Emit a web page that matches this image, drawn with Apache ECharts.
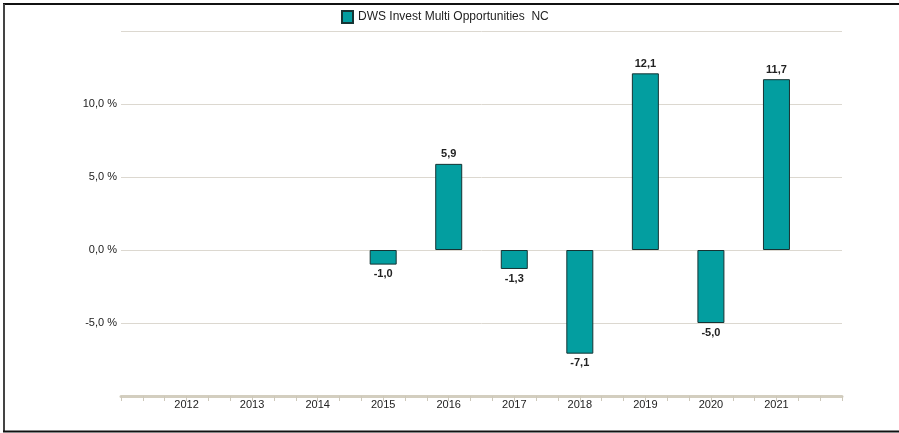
<!DOCTYPE html>
<html>
<head>
<meta charset="utf-8">
<script src="https://cdn.jsdelivr.net/npm/echarts@6/dist/echarts.min.js"></script>
<style>
  html, body { margin: 0; padding: 0; background: #fff; }
  #chart { width: 899px; height: 433px; }
</style>
</head>
<body>
<div id="chart"></div>
<script>
  // x slots: empty padding at both ends, the years in between
  var years = ['', '2012', '2013', '2014', '2015', '2016', '2017', '2018', '2019', '2020', '2021', ''];
  var returns = [null, null, null, null, -1.0, 5.9, -1.3, -7.1, 12.1, -5.0, 11.7, null];
  var seriesName = 'DWS Invest Multi Opportunities  NC';
  var yMin = -10, yMax = 15, yStep = 5;

  function comma(v) {
    return v.toFixed(1).replace('.', ',');
  }

  var barData = returns.map(function (v) {
    if (v === null) return '-';
    return {
      value: v,
      label: { position: v >= 0 ? 'top' : 'bottom' }
    };
  });

  var myChart = echarts.init(document.getElementById('chart'));

  var option = {
    animation: false,
    textStyle: { fontFamily: 'Liberation Sans, Arial, sans-serif' },
    legend: {
      top: 10,
      left: 341,
      padding: 0,
      icon: 'rect',
      itemWidth: 11,
      itemHeight: 12,
      itemGap: 4,
      selectedMode: false,
      textStyle: { fontSize: 12, color: '#222' },
      data: [seriesName]
    },
    grid: { left: 121, right: 57, top: 31, bottom: 37 },
    xAxis: [
      {
        type: 'category',
        data: years,
        boundaryGap: false,
        axisLine: { show: false },
        axisTick: { show: false },
        axisLabel: { margin: 3, fontSize: 11, color: '#222', interval: 0 },
        splitLine: { show: false }
      },
      {
        // only draws the small ticks along the bottom line
        type: 'value',
        position: 'bottom',
        min: 0,
        max: 33,
        interval: 1,
        axisLine: { show: true, lineStyle: { color: '#d3cebf', width: 3 } },
        axisTick: { show: true, length: 5, lineStyle: { color: '#cdc8ba', width: 1 } },
        axisLabel: { show: false },
        splitLine: { show: false }
      }
    ],
    yAxis: {
      type: 'value',
      min: yMin,
      max: yMax,
      interval: yStep,
      axisLine: { show: false },
      axisTick: { show: false },
      axisLabel: {
        margin: 4,
        fontSize: 11,
        color: '#222',
        showMinLabel: false,
        showMaxLabel: false,
        formatter: function (v) { return comma(v) + ' %'; }
      },
      splitLine: { lineStyle: { color: '#dcd8d0', width: 1 } }
    },
    series: [
      {
        name: seriesName,
        type: 'bar',
        xAxisIndex: 0,
        barWidth: 27,
        data: barData,
        itemStyle: { color: '#039ea0', borderColor: '#163333', borderWidth: 1 },
        label: {
          show: true,
          distance: 4,
          fontSize: 11,
          fontWeight: 'bold',
          color: '#222',
          formatter: function (p) { return comma(p.value); }
        }
      }
    ],
    graphic: [
      { type: 'line', shape: { x1: 3, y1: 4, x2: 899, y2: 4 }, style: { stroke: '#111', lineWidth: 2 } },
      { type: 'line', shape: { x1: 4, y1: 4, x2: 4, y2: 432 }, style: { stroke: '#444', lineWidth: 2 } },
      { type: 'line', shape: { x1: 3, y1: 431.5, x2: 899, y2: 431.5 }, style: { stroke: '#111', lineWidth: 2 } }
    ]
  };

  myChart.setOption(option);
</script>
</body>
</html>
